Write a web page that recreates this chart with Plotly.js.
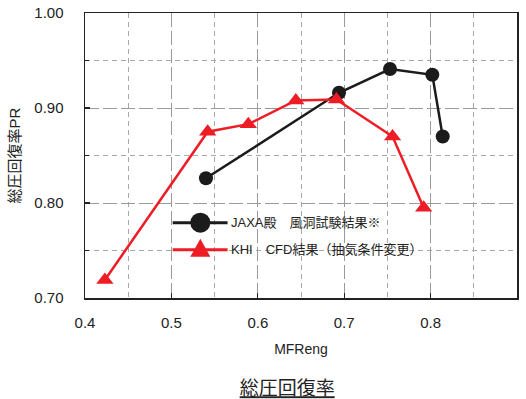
<!DOCTYPE html>
<html>
<head>
<meta charset="utf-8">
<script src="https://cdn.plot.ly/plotly-3.0.1.min.js"></script>
<style>
  html, body { margin: 0; padding: 0; background: #fff; }
  #chart { width: 526px; height: 399px; }
</style>
</head>
<body>
<div id="chart"></div>
<script>
// Wind tunnel results (JAXA)
const jaxaName = 'JAXA殿\u3000風洞試験結果※';
const jaxaMFR = [0.540, 0.694, 0.753, 0.802, 0.814];
const jaxaPR  = [0.826, 0.916, 0.941, 0.935, 0.870];

// CFD results (KHI), bleed conditions varied
const khiName = 'KHI\u3000CFD結果（抽気条件変更）';
const khiMFR = [0.423, 0.542, 0.589, 0.644, 0.691, 0.756, 0.792];
const khiPR  = [0.719, 0.875, 0.883, 0.908, 0.909, 0.870, 0.795];

// Axis ticks
const xTicks = [0.4, 0.5, 0.6, 0.7, 0.8, 0.9];
const xTickText = ['0.4', '0.5', '0.6', '0.7', '0.8', '0.9'];
const yTicks = [0.70, 0.80, 0.90, 1.00];
const yTickText = ['0.70', '0.80', '0.90', '1.00'];

const BLACK = '#1b1b1b';
const RED = '#ee1c25';
const LATIN = '"Liberation Sans", Arial, "Noto Sans CJK JP", sans-serif';
const JP = '"Liberation Sans", "Noto Sans CJK JP", sans-serif';

const traces = [
  {
    x: jaxaMFR, y: jaxaPR, name: jaxaName, type: 'scatter', mode: 'lines+markers',
    line: { color: BLACK, width: 2.5 },
    marker: { symbol: 'circle', size: 14, color: BLACK },
    showlegend: false, cliponaxis: false
  },
  {
    x: khiMFR, y: khiPR, name: khiName, type: 'scatter', mode: 'lines+markers',
    line: { color: RED, width: 2.5 },
    marker: { symbol: 'triangle-up', size: 15, color: RED },
    showlegend: false, cliponaxis: false
  }
];

// Hand-drawn key inside the plot area
const keyX0 = 0.5015, keyX1 = 0.565, keyXm = 0.5335;
const keyY = [0.7793, 0.7508];
const shapes = [
  { type: 'line', xref: 'x', yref: 'y', x0: keyX0, x1: keyX1, y0: keyY[0], y1: keyY[0],
    line: { color: BLACK, width: 3 } },
  { type: 'circle', xref: 'x', yref: 'y', xsizemode: 'pixel', ysizemode: 'pixel',
    xanchor: keyXm, yanchor: keyY[0], x0: -10, x1: 10, y0: -10, y1: 10,
    fillcolor: BLACK, line: { color: BLACK, width: 0 } },
  { type: 'line', xref: 'x', yref: 'y', x0: keyX0, x1: keyX1, y0: keyY[1], y1: keyY[1],
    line: { color: RED, width: 3 } },
  { type: 'path', xref: 'x', yref: 'y', xsizemode: 'pixel', ysizemode: 'pixel',
    xanchor: keyXm, yanchor: keyY[1],
    path: 'M-10,-7 L10,-7 L0,11 Z',
    fillcolor: RED, line: { color: RED, width: 0 } }
];

const annotations = [
  { x: 0.567, y: keyY[0], xref: 'x', yref: 'y', text: jaxaName, showarrow: false,
    xanchor: 'left', yanchor: 'middle', font: { family: JP, size: 13, color: '#222' } },
  { x: 0.567, y: keyY[1], xref: 'x', yref: 'y', text: khiName, showarrow: false,
    xanchor: 'left', yanchor: 'middle', font: { family: JP, size: 13, color: '#222' } }
];

const axisCommon = {
  showline: true, mirror: true, linecolor: '#222', linewidth: 1.5,
  ticks: 'inside', ticklen: 5, tickcolor: '#222', tickwidth: 1.2,
  showgrid: true, gridcolor: '#9a9a9a', gridwidth: 1, griddash: '14px,4px',
  zeroline: false, tickfont: { family: LATIN, size: 15, color: '#222' },
  fixedrange: true
};

const layout = {
  width: 526, height: 399,
  margin: { l: 85, r: 9, t: 13, b: 101 },
  paper_bgcolor: '#fff', plot_bgcolor: '#fff',
  font: { family: JP, color: '#222' },
  title: {
    text: '<u>総圧回復率</u>', xref: 'paper', yref: 'container',
    x: 0.468, xanchor: 'center', y: 0.026, yanchor: 'middle',
    font: { family: JP, size: 19, color: '#222' }
  },
  xaxis: Object.assign({}, axisCommon, {
    range: [0.4, 0.9], tickvals: xTicks, ticktext: xTickText, ticklabelstandoff: 10,
    title: { text: 'MFReng', standoff: 14, font: { family: LATIN, size: 14, color: '#222' } },
    minor: { dtick: 0.05, tick0: 0.4, showgrid: true, gridcolor: '#a8a8a8', gridwidth: 1,
             griddash: '5px,4px', ticks: '' }
  }),
  yaxis: Object.assign({}, axisCommon, {
    range: [0.70, 1.00], tickvals: yTicks, ticktext: yTickText, ticklabelstandoff: 17,
    title: { text: '総圧回復率PR', standoff: 10, font: { family: JP, size: 15, color: '#222' } },
    minor: { dtick: 0.05, tick0: 0.7, showgrid: true, gridcolor: '#a8a8a8', gridwidth: 1,
             griddash: '5px,4px', ticks: 'inside', ticklen: 4, tickcolor: '#222' }
  }),
  shapes: shapes,
  annotations: annotations,
  showlegend: false
};

Plotly.newPlot('chart', traces, layout, { staticPlot: true, displayModeBar: false });
</script>
</body>
</html>
